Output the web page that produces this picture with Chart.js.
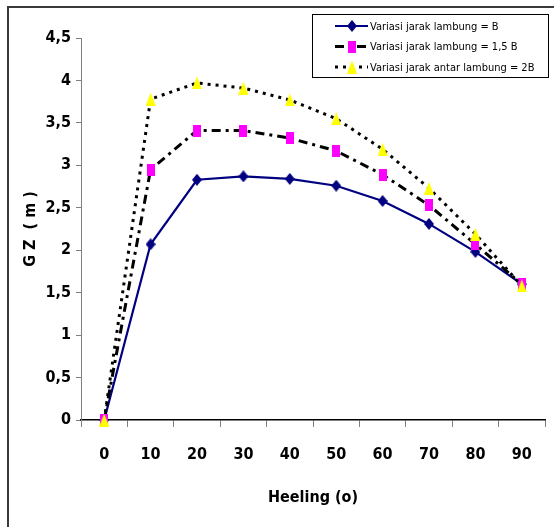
<!DOCTYPE html>
<html>
<head>
<meta charset="utf-8">
<script src="https://cdn.jsdelivr.net/npm/chart.js@4/dist/chart.umd.min.js"></script>
<style>
  html, body { margin: 0; padding: 0; background: #fff; }
  #wrap { width: 554px; height: 527px; }
</style>
</head>
<body>
<div id="wrap"><canvas id="gz" width="554" height="527"></canvas></div>
<script>
// heeling angles (x categories) and GZ values
const heeling = ['0', '10', '20', '30', '40', '50', '60', '70', '80', '90'];
const gzB = [0, 2.07, 2.83, 2.87, 2.84, 2.76, 2.58, 2.31, 1.98, 1.60];
const gz15B = [0, 2.95, 3.41, 3.41, 3.32, 3.17, 2.89, 2.53, 2.07, 1.60];
const gz2B = [0, 3.78, 3.97, 3.91, 3.77, 3.55, 3.19, 2.73, 2.19, 1.58];
const seriesNames = [
  'Variasi jarak lambung = B',
  'Variasi jarak lambung = 1,5 B',
  'Variasi jarak antar lambung = 2B'
];
const yMin = 0, yMax = 4.5, yStep = 0.5;

const narrow = '"DejaVu Sans Condensed", "Liberation Sans Narrow", "DejaVu Sans", sans-serif';

// small canvases used as point markers
function makeMarker(w, h, color, path) {
  const c = document.createElement('canvas');
  c.width = w; c.height = h;
  const g = c.getContext('2d');
  g.fillStyle = color;
  g.beginPath();
  path(g, w, h);
  g.fill();
  return c;
}
const diamond = makeMarker(10, 12, '#000080', (g, w, h) => {
  g.moveTo(w / 2, 0); g.lineTo(w, h / 2); g.lineTo(w / 2, h); g.lineTo(0, h / 2); g.closePath();
});
const square = makeMarker(8, 12, '#FF00FF', (g, w, h) => g.rect(0, 0, w, h));
const triangle = makeMarker(10, 13, '#FFFF00', (g, w, h) => {
  g.moveTo(w / 2, 0); g.lineTo(w, h); g.lineTo(0, h); g.closePath();
});

// white page + the cut-off frame on the left and top
const framePlugin = {
  id: 'frame',
  beforeDraw(chart) {
    const ctx = chart.ctx;
    ctx.save();
    ctx.fillStyle = '#fff';
    ctx.fillRect(0, 0, chart.width, chart.height);
    ctx.strokeStyle = '#3a3a3a';
    ctx.lineWidth = 2;
    ctx.beginPath();
    ctx.moveTo(8, chart.height);
    ctx.lineTo(8, 7);
    ctx.lineTo(chart.width, 7);
    ctx.stroke();
    ctx.restore();
  }
};

// legend box inside the plot, top right
const boxLegend = {
  id: 'boxLegend',
  afterDraw(chart) {
    const ctx = chart.ctx;
    const x0 = 312, y0 = 14, w = 236, h = 63;
    ctx.save();
    ctx.fillStyle = '#fff';
    ctx.fillRect(x0, y0, w, h);
    ctx.strokeStyle = '#000';
    ctx.lineWidth = 1;
    ctx.strokeRect(x0 + 0.5, y0 + 0.5, w, h);
    ctx.font = '11px ' + narrow;
    ctx.textBaseline = 'middle';
    chart.data.datasets.forEach((ds, i) => {
      const y = 26 + i * 20.5;
      ctx.strokeStyle = ds.borderColor;
      ctx.lineWidth = ds.borderWidth;
      ctx.setLineDash(ds.borderDash || []);
      ctx.beginPath();
      ctx.moveTo(335, y);
      ctx.lineTo(368, y);
      ctx.stroke();
      ctx.setLineDash([]);
      const m = ds.pointStyle;
      ctx.drawImage(m, 352 - m.width / 2, y - m.height / 2);
      ctx.fillStyle = '#000';
      ctx.fillText(ds.label, 370, y + 1);
    });
    ctx.restore();
  }
};

new Chart(document.getElementById('gz'), {
  type: 'line',
  data: {
    labels: heeling,
    datasets: [
      {
        label: seriesNames[0], data: gzB, order: 3,
        borderColor: '#000080', borderWidth: 2.2,
        pointStyle: diamond, pointRadius: 6
      },
      {
        label: seriesNames[1], data: gz15B, order: 2,
        borderColor: '#000', borderWidth: 3, borderDash: [9, 5, 3, 5],
        pointStyle: square, pointRadius: 6
      },
      {
        label: seriesNames[2], data: gz2B, order: 1,
        borderColor: '#000', borderWidth: 3, borderDash: [3, 5],
        pointStyle: triangle, pointRadius: 6
      }
    ]
  },
  options: {
    responsive: false,
    animation: false,
    events: [],
    clip: false,
    elements: { line: { tension: 0, fill: false } },
    layout: { padding: { top: 38, right: 5, left: 0, bottom: 0 } },
    plugins: { legend: { display: false }, tooltip: { enabled: false } },
    scales: {
      x: {
        offset: true,
        grid: { drawOnChartArea: false, drawTicks: true, tickLength: 7, offset: true, color: '#808080' },
        border: { color: '#000', width: 1.5 },
        ticks: { color: '#000', padding: 18, maxRotation: 0, font: { family: narrow, size: 16, weight: 'bold' } },
        title: {
          display: true, text: 'Heeling (o)', color: '#000',
          font: { family: narrow, size: 16, weight: 'bold' },
          padding: { top: 0, bottom: 20 }
        },
        afterFit(s) { s.height = 107; }
      },
      y: {
        min: yMin, max: yMax,
        grid: { drawOnChartArea: false, drawTicks: true, tickLength: 5, color: '#808080' },
        border: { color: '#808080', width: 1 },
        ticks: {
          stepSize: yStep, color: '#000', padding: 5,
          font: { family: narrow, size: 16, weight: 'bold' },
          callback: v => String(v).replace('.', ',')
        },
        title: {
          display: true, text: 'G Z  ( m )', color: '#000',
          font: { family: narrow, size: 16, weight: 'bold' },
          padding: { top: 21, bottom: 0 }
        },
        afterFit(s) { s.width = 81; }
      }
    }
  },
  plugins: [framePlugin, boxLegend]
});
</script>
</body>
</html>
